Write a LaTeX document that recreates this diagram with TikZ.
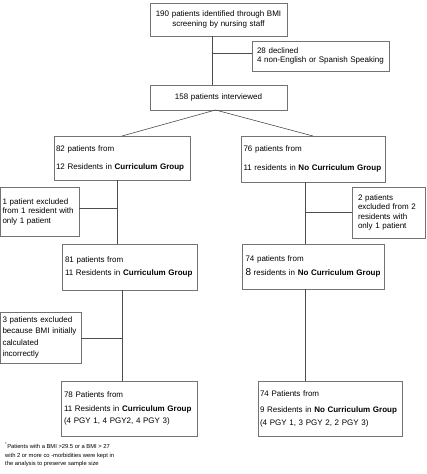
\documentclass[tikz,border=0pt]{standalone}
\usepackage{fontspec}
\setmainfont{Liberation Sans}
\usepackage{tikz}

\begin{document}
\begin{tikzpicture}[x=1pt, y=-1pt,
    flowbox/.style={draw=black!55, line width=0.6pt, rectangle, inner xsep=2pt, inner ysep=1pt, outer sep=0pt, align=left, font=\fontsize{8}{9.5}\selectfont},
    link/.style={draw=black!70, line width=0.6pt}]

        \useasboundingbox (0,0) rectangle (426,474);

        %Boxes
        \node[flowbox, align=center, text width=133pt, minimum width=137pt, minimum height=33pt] (screened) at (218.5,19.5) {190 patients identified through BMI\\screening by nursing staff};
        \node[flowbox, inner xsep=5pt, text width=127pt, minimum width=137pt, minimum height=30pt] (declined) at (320.5,56) {28 declined\\4 non-English or Spanish Speaking};
        \node[flowbox, align=center, text width=133pt, minimum width=137pt, minimum height=25pt] (interviewed) at (218.5,97.5) {158 patients interviewed};

        \node[flowbox, text width=132pt, minimum width=136pt, minimum height=44pt, font=\fontsize{8}{18}\selectfont] (curA) at (122,158) {82 patients from\\12 Residents in \textbf{Curriculum Group}};
        \node[flowbox, inner xsep=2.5pt, text width=74pt, minimum width=79pt, minimum height=49pt] (exclA) at (39.5,211.5) {1 patient excluded\\from 1 resident with\\only 1 patient};
        \node[flowbox, inner xsep=3pt, text width=129pt, minimum width=135pt, minimum height=46pt, font=\fontsize{8}{13}\selectfont] (curB) at (129.5,267) {81 patients from\\11 Residents in \textbf{Curriculum Group}};
        \node[flowbox, inner xsep=2.5pt, text width=76pt, minimum width=81pt, minimum height=51pt, font=\fontsize{8}{11.5}\selectfont] (exclB) at (40.5,337.5) {3 patients excluded\\because BMI initially\\calculated\\incorrectly};
        \node[flowbox, inner xsep=3pt, text width=130pt, minimum width=136pt, minimum height=55pt, font=\fontsize{8}{13.5}\selectfont] (curC) at (129,408.5) {78 Patients from\\11 Residents in \textbf{Curriculum Group}\\[-1.5pt](4 PGY 1, 4 PGY2, 4 PGY 3)\\[-6pt]};

        \node[flowbox, inner xsep=2.5pt, text width=139pt, minimum width=144pt, minimum height=46pt, font=\fontsize{8}{18.5}\selectfont] (noA) at (313,159) {76 patients from\\11 residents in \textbf{No Curriculum Group}};
        \node[flowbox, inner xsep=6pt, text width=61pt, minimum width=73pt, minimum height=51pt, font=\fontsize{8}{9.2}\selectfont] (exclC) at (388.5,212.5) {2 patients\\excluded from 2\\residents with\\only 1 patient};
        \node[flowbox, inner xsep=3.5pt, text width=135pt, minimum width=142pt, minimum height=45pt, font=\fontsize{8}{14}\selectfont] (noB) at (313,266.5) {74 patients from\\{\fontsize{10}{12}\selectfont 8} residents in \textbf{No Curriculum Group}};
        \node[flowbox, text width=140pt, minimum width=144pt, minimum height=55pt, font=\fontsize{8}{16}\selectfont] (noC) at (330,408.5) {74 Patients from\\9 Residents in \textbf{No Curriculum Group}\\[-3pt](4 PGY 1, 3 PGY 2, 2 PGY 3)\\[-6pt]};

        %Footnote
        \node[anchor=north west, inner sep=0pt, align=left, font=\fontsize{5.8}{8.5}\selectfont] (note) at (5,443) {\textsuperscript{*}Patients with a BMI >29.5 or a BMI > 27\\with 2 or more co -morbidities were kept in\\the analysis to preserve sample size};

        %Connectors
        \coordinate (splitA) at (212,53);
        \draw[link] (screened.south -| splitA) -- (interviewed.north -| splitA);
        \draw[link] (splitA) -- (splitA -| declined.west);

        \draw[link] (curA.north) -- ([xshift=-3pt]interviewed.south) -- (noA.north);

        \coordinate (splitB) at (117,208);
        \draw[link] (curA.south -| splitB) -- (curB.north -| splitB);
        \draw[link] (splitB) -- (splitB -| exclA.east);

        \coordinate (splitC) at (122,338);
        \draw[link] (curB.south -| splitC) -- (curC.north -| splitC);
        \draw[link] (splitC) -- (splitC -| exclB.east);

        \coordinate (splitD) at (305,212);
        \draw[link] (noA.south -| splitD) -- (noB.north -| splitD);
        \draw[link] (splitD) -- (splitD -| exclC.west);
        \draw[link] (noB.south -| splitD) -- (noC.north -| splitD);

    \end{tikzpicture}
\end{document}
